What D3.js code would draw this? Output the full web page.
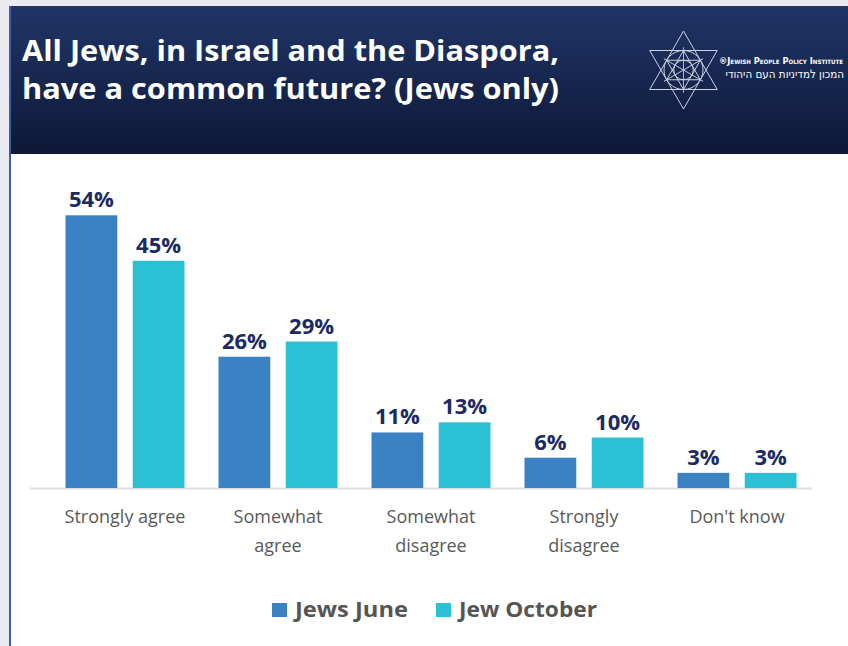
<!DOCTYPE html>
<html>
<head>
<meta charset="utf-8">
<script src="https://cdn.jsdelivr.net/npm/d3@7"></script>
<style>
  html, body { margin: 0; padding: 0; background: #ebeaf0; }
  svg { display: block; }
</style>
</head>
<body>
<svg id="chart" width="848" height="646"></svg>
<script>
// Survey answers and the two survey waves
const categories = [["Strongly agree"], ["Somewhat", "agree"], ["Somewhat", "disagree"], ["Strongly", "disagree"], ["Don't know"]];
const seriesNames = ["Jews June", "Jew October"];
const juneValues = [54, 26, 11, 6, 3];
const octoberValues = [45, 29, 13, 10, 3];
const seriesColors = ["#3a82c4", "#2cc0d4"];
const titleLines = ["All Jews, in Israel and the Diaspora,", "have a common future? (Jews only)"];

const svg = d3.select("#chart");
const W = 848, H = 646;
const FONT = "'Open Sans', Lato, sans-serif";

// page frame: light backdrop, white card, navy header
svg.append("rect").attr("x", 0).attr("y", 0).attr("width", W).attr("height", H).attr("fill", "#ebeaf0");
svg.append("rect").attr("x", 10).attr("y", 6).attr("width", W - 10).attr("height", H - 6).attr("fill", "#ffffff");

const defs = svg.append("defs");
const grad = defs.append("linearGradient").attr("id", "hdr").attr("x1", 0).attr("y1", 0).attr("x2", 0).attr("y2", 1);
grad.append("stop").attr("offset", "0%").attr("stop-color", "#203568");
grad.append("stop").attr("offset", "100%").attr("stop-color", "#0d1836");
svg.append("rect").attr("x", 10).attr("y", 6).attr("width", W - 10).attr("height", 148).attr("fill", "url(#hdr)");
svg.append("rect").attr("x", 9).attr("y", 6).attr("width", 2).attr("height", H - 6).attr("fill", "#3d5fa6");

// title
svg.append("g").selectAll("text").data(titleLines).join("text")
  .attr("x", 22).attr("y", (d, i) => 61 + i * 38)
  .attr("fill", "#ffffff")
  .attr("font-family", FONT)
  .attr("font-weight", 700)
  .attr("font-size", 28)
  .attr("textLength", 537).attr("lengthAdjust", "spacingAndGlyphs")
  .text(d => d);

// institute emblem
const logo = svg.append("g").attr("stroke", "#dfe5f2").attr("stroke-width", 1).attr("fill", "none").attr("opacity", 0.9);
const cx = 683.5, cy = 70, R = 39;
const tri = (r, rot) => d3.range(3).map(k => {
  const a = rot + k * 2 * Math.PI / 3;
  return [cx + r * Math.sin(a), cy - r * Math.cos(a)];
});
const line = d3.line().curve(d3.curveLinearClosed);
logo.append("path").attr("d", line(tri(R, 0)));
logo.append("path").attr("d", line(tri(R, Math.PI)));
logo.append("path").attr("d", line(tri(R * 0.5, 0)));
logo.append("path").attr("d", line(tri(R * 0.5, Math.PI)));
logo.append("circle").attr("cx", cx).attr("cy", cy).attr("r", R * 0.5);
logo.append("circle").attr("cx", cx).attr("cy", cy).attr("r", R * 0.25);
const hex = d3.range(6).map(k => {
  const a = Math.PI / 6 + k * Math.PI / 3;
  return [cx + R * 0.58 * Math.cos(a), cy + R * 0.58 * Math.sin(a)];
});
hex.forEach(p => logo.append("line").attr("x1", p[0]).attr("y1", p[1]).attr("x2", 2 * cx - p[0]).attr("y2", 2 * cy - p[1]).attr("opacity", 0.6));
svg.append("text").attr("x", 719).attr("y", 64)
  .attr("fill", "#ffffff").attr("font-family", "'Liberation Sans Narrow', 'DejaVu Sans Condensed', sans-serif")
  .attr("font-weight", 700).attr("font-size", 9).attr("font-variant", "small-caps")
  .attr("textLength", 124).attr("lengthAdjust", "spacingAndGlyphs")
  .text("\u00AEJewish People Policy Institute");
svg.append("text").attr("x", 844).attr("y", 78)
  .attr("text-anchor", "end")
  .attr("fill", "#ffffff").attr("font-family", "'Liberation Sans Narrow', 'DejaVu Sans Condensed', sans-serif")
  .attr("font-size", 11.5)
  .text("המכון למדיניות העם היהודי");

// scales
const baseY = 488;
const x0 = d3.scaleBand().domain(d3.range(categories.length)).range([48.5, 813.5]).paddingInner(0).paddingOuter(0);
const x1 = d3.scaleBand().domain(seriesNames).range([17, 136]).paddingInner(0.23);
const y = d3.scaleLinear().domain([0, 60]).range([baseY, baseY - 303]);

// baseline
svg.append("line").attr("x1", 30).attr("x2", 812).attr("y1", baseY + 0.5).attr("y2", baseY + 0.5)
  .attr("stroke", "#e0e0e0").attr("stroke-width", 2);

const rows = categories.map((c, i) => ({ i, vals: [juneValues[i], octoberValues[i]] }));
const groups = svg.append("g").selectAll("g").data(rows).join("g")
  .attr("transform", d => `translate(${x0(d.i)},0)`);

groups.selectAll("rect").data(d => d.vals.map((v, k) => ({ v, k }))).join("rect")
  .attr("x", d => x1(seriesNames[d.k]))
  .attr("width", x1.bandwidth())
  .attr("y", d => y(d.v))
  .attr("height", d => baseY - y(d.v))
  .attr("fill", d => seriesColors[d.k]);

groups.selectAll("text.val").data(d => d.vals.map((v, k) => ({ v, k }))).join("text")
  .attr("class", "val")
  .attr("x", d => x1(seriesNames[d.k]) + x1.bandwidth() / 2)
  .attr("y", d => y(d.v) - 8)
  .attr("text-anchor", "middle")
  .attr("fill", "#1b2a63")
  .attr("font-family", FONT)
  .attr("font-weight", 700)
  .attr("font-size", 22)
  .text(d => d.v + "%");

// category labels
const catG = svg.append("g").selectAll("text").data(categories).join("text")
  .attr("x", (d, i) => x0(i) + x0.bandwidth() / 2)
  .attr("text-anchor", "middle")
  .attr("fill", "#595959")
  .attr("font-family", FONT)
  .attr("font-size", 18);
catG.selectAll("tspan").data(d => d).join("tspan")
  .attr("x", function () { return d3.select(this.parentNode).attr("x"); })
  .attr("y", (d, j) => 523 + j * 29)
  .text(d => d);

// legend
const legendX = [272, 436];
const legendLen = [113, 138];
const lg = svg.append("g").selectAll("g").data(seriesNames).join("g")
  .attr("transform", (d, i) => `translate(${legendX[i]},603)`);
lg.append("rect").attr("width", 15).attr("height", 14).attr("fill", (d, i) => seriesColors[i]);
lg.append("text").attr("x", 23).attr("y", 14)
  .attr("fill", "#555555")
  .attr("font-family", FONT)
  .attr("font-weight", 700).attr("font-size", 21)
  .attr("textLength", (d, i) => legendLen[i]).attr("lengthAdjust", "spacingAndGlyphs")
  .text(d => d);
</script>
</body>
</html>
